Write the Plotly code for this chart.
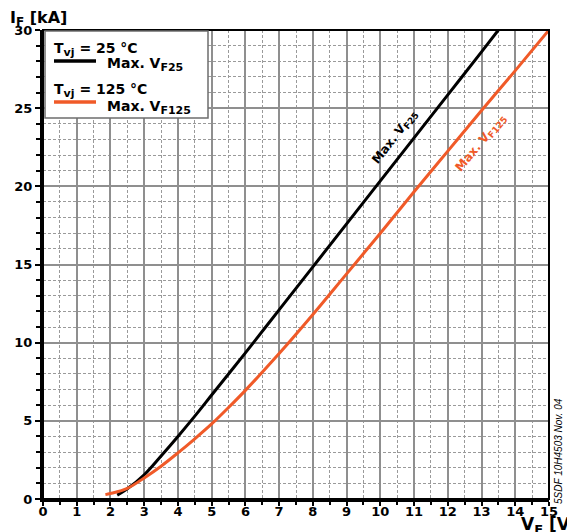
import plotly.graph_objects as go

# Data
vf_25 = [2.2, 2.5, 3.0, 3.5, 4.0, 4.5, 5.0, 6.0, 7.0, 8.0, 9.0, 10.0, 11.0, 12.0, 13.0, 13.5]
if_25 = [0.25, 0.65, 1.55, 2.75, 4.0, 5.3, 6.65, 9.35, 12.1, 14.85, 17.6, 20.35, 23.1, 25.85, 28.6, 30.0]

vf_125 = [1.85, 2.0, 2.5, 3.0, 3.5, 4.0, 4.5, 5.0, 5.5, 6.0, 7.0, 8.0, 9.0, 10.0, 11.0, 12.0, 13.0, 14.0, 15.0]
if_125 = [0.28, 0.35, 0.68, 1.35, 2.1, 2.95, 3.85, 4.8, 5.85, 6.95, 9.3, 11.8, 14.4, 17.0, 19.65, 22.25, 24.85, 27.4, 30.0]

x_ticks = list(range(0, 16))
y_ticks = [0, 5, 10, 15, 20, 25, 30]

BLACK = "#000000"
ORANGE = "#F05A28"
FONT = "DejaVu Sans"

W, H = 567, 532
ML, MR, MT, MB = 43, 18, 30, 33
PW, PH = W - ML - MR, H - MT - MB


def px(x):
    return (x - ML) / PW


def py(y):
    return (H - MB - y) / PH


def sub(s, size):
    return f"<sub><span style='font-size:{size}px'>{s}</span></sub>"


fig = go.Figure()
fig.add_trace(go.Scatter(x=vf_25, y=if_25, mode="lines", line=dict(color=BLACK, width=3, shape="spline"),
                         showlegend=False, hoverinfo="skip"))
fig.add_trace(go.Scatter(x=vf_125, y=if_125, mode="lines", line=dict(color=ORANGE, width=3, shape="spline"),
                         showlegend=False, hoverinfo="skip"))

tickfont = dict(family=FONT, size=13, color="black", weight="bold")

fig.update_xaxes(range=[0, 15], tickvals=x_ticks, ticktext=[str(v) for v in x_ticks],
                 automargin=False, ticklabelstandoff=-6,
                 showgrid=True, gridcolor="#8f8f8f", gridwidth=2,
                 showline=True, linecolor="black", linewidth=3,
                 ticks="outside", ticklen=4, tickcolor="black", tickwidth=1.5,
                 tickfont=tickfont, zeroline=False,
                 minor=dict(dtick=0.5, showgrid=True, gridcolor="#9a9a9a", gridwidth=1, griddash="3px,2px",
                            ticks="outside", ticklen=3, tickcolor="black"))
fig.update_yaxes(range=[0, 30], tickvals=y_ticks, ticktext=[str(v) for v in y_ticks],
                 automargin=False,
                 showgrid=True, gridcolor="#8f8f8f", gridwidth=2,
                 showline=True, linecolor="black", linewidth=3,
                 ticks="outside", ticklen=5, tickcolor="black", tickwidth=1.5,
                 tickfont=tickfont, zeroline=False,
                 minor=dict(dtick=1, showgrid=True, gridcolor="#9a9a9a", gridwidth=1, griddash="3px,2px",
                            ticks="outside", ticklen=4, tickcolor="black"))

shapes = [
    # plot border (top/right thinner)
    dict(type="rect", xref="paper", yref="paper", x0=0, x1=1, y0=0, y1=1,
         line=dict(color="black", width=2), layer="above"),
    # legend box
    dict(type="rect", xref="paper", yref="paper", x0=px(45), x1=px(208), y0=py(118), y1=py(31),
         line=dict(color="#6e6e6e", width=1.5), fillcolor="white", layer="above"),
    dict(type="line", xref="paper", yref="paper", x0=px(54), x1=px(96), y0=py(61), y1=py(61),
         line=dict(color=BLACK, width=3.5), layer="above"),
    dict(type="line", xref="paper", yref="paper", x0=px(54), x1=px(96), y0=py(102), y1=py(102),
         line=dict(color=ORANGE, width=3.5), layer="above"),
]

lf = dict(family=FONT, size=14, color="black", weight="bold")
annotations = [
    dict(text="T" + sub("vj", 11) + " = 25 °C", xref="paper", yref="paper", x=px(52), y=py(49),
         xanchor="left", yanchor="middle", showarrow=False, font=lf),
    dict(text="Max. V" + sub("F25", 11), xref="paper", yref="paper", x=px(105), y=py(64),
         xanchor="left", yanchor="middle", showarrow=False, font=lf),
    dict(text="T" + sub("vj", 11) + " = 125 °C", xref="paper", yref="paper", x=px(52), y=py(91),
         xanchor="left", yanchor="middle", showarrow=False, font=lf),
    dict(text="Max. V" + sub("F125", 11), xref="paper", yref="paper", x=px(105), y=py(107),
         xanchor="left", yanchor="middle", showarrow=False, font=lf),
    # curve labels
    dict(text="Max. V" + sub("F25", 9), x=10.45, y=23.15, xref="x", yref="y", showarrow=False,
         textangle=-52, font=dict(family=FONT, size=12, color=BLACK, weight="bold")),
    dict(text="Max. V" + sub("F125", 9), x=13.0, y=22.75, xref="x", yref="y", showarrow=False,
         textangle=-50, font=dict(family=FONT, size=12, color=ORANGE, weight="bold")),
    # axis titles
    dict(text="I" + sub("F", 12) + " [kA]", xref="paper", yref="paper", x=px(8), y=py(6),
         xanchor="left", yanchor="top", showarrow=False,
         font=dict(family=FONT, size=16, color="black", weight="bold")),
    dict(text="V" + sub("F", 13) + " [V]", xref="paper", yref="paper", x=px(519), y=py(512),
         xanchor="left", yanchor="top", showarrow=False,
         font=dict(family=FONT, size=17, color="black", weight="bold")),
    # side note
    dict(text="<i>5SDF 10H4503 Nov. 04</i>", xref="paper", yref="paper", x=px(558), y=py(451),
         xanchor="center", yanchor="middle", textangle=-90, showarrow=False,
         font=dict(family="Liberation Sans", size=10, color="black")),
]

fig.update_layout(width=W, height=H, margin=dict(l=ML, r=MR, t=MT, b=MB),
                  paper_bgcolor="white", plot_bgcolor="white",
                  shapes=shapes, annotations=annotations, showlegend=False)

fig.write_html("out.html")
